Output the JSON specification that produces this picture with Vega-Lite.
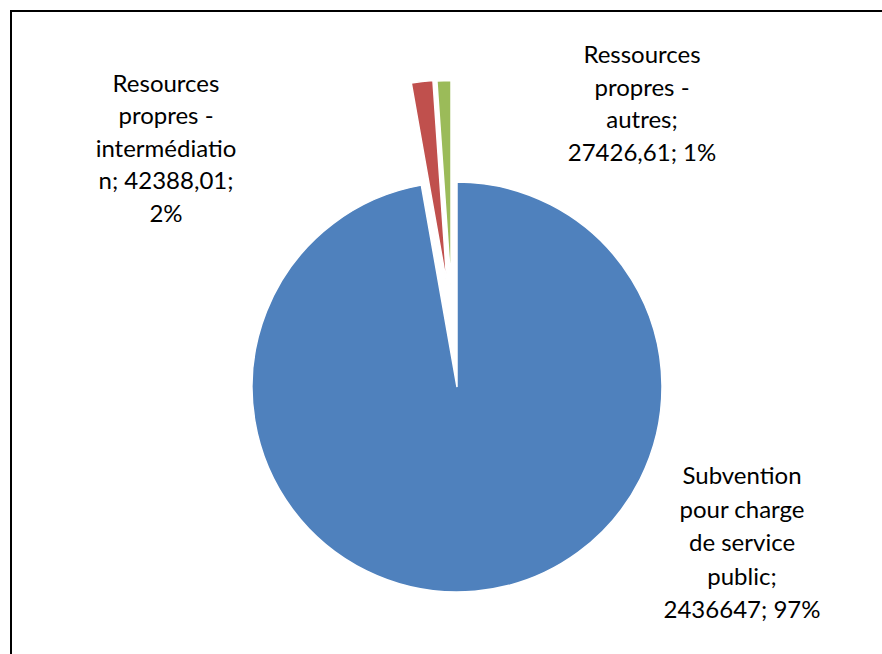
{
  "$schema": "https://vega.github.io/schema/vega-lite/v6.json",
  "width": 871,
  "height": 643,
  "autosize": {"type": "none"},
  "padding": {"left": 11, "top": 11, "right": 0, "bottom": 0},
  "background": "white",
  "view": {"stroke": "black", "strokeWidth": 2, "strokeDash": [871, 1514, 643, 10]},
  "config": {
    "text": {"font": "Lato", "fontSize": 24, "color": "black"}
  },
  "data": {
    "values": [
      {"category": "Subvention pour charge de service public", "value": 2436647, "order": 1, "label": "Subvention\npour charge\nde service\npublic;\n2436647; 97%"},
      {"category": "Resources propres - intermédiation", "value": 42388.01, "order": 2, "label": "Resources\npropres -\nintermédiatio\nn; 42388,01;\n2%"},
      {"category": "Ressources propres - autres", "value": 27426.61, "order": 3, "label": "Ressources\npropres -\nautres;\n27426,61; 1%"}
    ]
  },
  "transform": [
    {"stack": "value", "groupby": [], "as": ["v0", "v1"], "sort": [{"field": "order", "order": "ascending"}]}
  ],
  "encoding": {
    "color": {
      "field": "category",
      "type": "nominal",
      "legend": null,
      "scale": {
        "domain": ["Subvention pour charge de service public", "Resources propres - intermédiation", "Ressources propres - autres"],
        "range": ["#4F81BD", "#C0504D", "#9BBB59"]
      }
    }
  },
  "layer": [
    {
      "transform": [{"filter": "datum.order == 1"}],
      "mark": {"type": "arc", "outerRadius": 205, "stroke": "white", "strokeWidth": 1.5, "xOffset": 10.5, "yOffset": 54.5},
      "encoding": {
        "theta": {"field": "v0", "type": "quantitative", "scale": {"domain": [0, 2506461.62], "zero": true}},
        "theta2": {"field": "v1"}
      }
    },
    {
      "transform": [{"filter": "datum.order == 2"}],
      "mark": {"type": "arc", "outerRadius": 205, "stroke": "white", "strokeWidth": 1.5, "xOffset": 0.5, "yOffset": -47.5},
      "encoding": {
        "theta": {"field": "v0", "type": "quantitative"},
        "theta2": {"field": "v1"}
      }
    },
    {
      "transform": [{"filter": "datum.order == 3"}],
      "mark": {"type": "arc", "outerRadius": 205, "stroke": "white", "strokeWidth": 1.5, "xOffset": 4.5, "yOffset": -47},
      "encoding": {
        "theta": {"field": "v0", "type": "quantitative"},
        "theta2": {"field": "v1"}
      }
    },
    {
      "transform": [{"filter": "datum.order == 1"}],
      "mark": {"type": "text", "align": "center", "baseline": "middle", "lineBreak": "\n", "lineHeight": 33.5, "dx": 295.5, "dy": 144.5},
      "encoding": {"text": {"field": "label"}, "color": {"value": "black"}}
    },
    {
      "transform": [{"filter": "datum.order == 2"}],
      "mark": {"type": "text", "align": "center", "baseline": "middle", "lineBreak": "\n", "lineHeight": 32.5, "dx": -280.5, "dy": -248},
      "encoding": {"text": {"field": "label"}, "color": {"value": "black"}}
    },
    {
      "transform": [{"filter": "datum.order == 3"}],
      "mark": {"type": "text", "align": "center", "baseline": "middle", "lineBreak": "\n", "lineHeight": 32.5, "dx": 195.5, "dy": -276.5},
      "encoding": {"text": {"field": "label"}, "color": {"value": "black"}}
    }
  ]
}
